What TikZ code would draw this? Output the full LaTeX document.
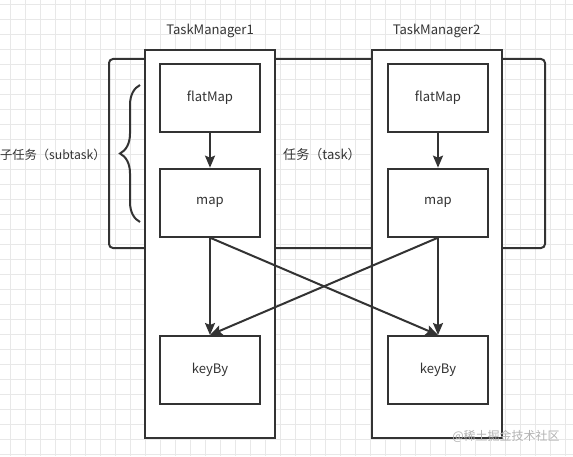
\documentclass[tikz,border=0pt]{standalone}
\usepackage{fontspec}
\setmainfont{Noto Sans CJK SC}
\usepackage{tikz}
\usetikzlibrary{arrows.meta,positioning,decorations.pathreplacing}
\definecolor{ink}{HTML}{333333}
\definecolor{gridgray}{HTML}{E8E8E8}

\begin{document}
\begin{tikzpicture}[
                  x=0.75pt, y=-0.75pt,
                  font=\fontsize{9.8}{11}\selectfont, text=ink,
                  gridline/.style={draw=gridgray, line width=0.6pt},
                  taskbox/.style={rectangle, draw=ink, line width=1.5pt, rounded corners=3pt, minimum width=327pt, minimum height=141.75pt, inner sep=0pt},
                  tmbox/.style={rectangle, draw=ink, fill=white, line width=1.5pt, minimum width=97.5pt, minimum height=291pt, inner sep=0pt},
                  opbox/.style={rectangle, draw=ink, fill=white, line width=1.5pt, minimum width=75pt, minimum height=51pt, inner sep=0pt},
                  line/.style={draw=ink, line width=1.5pt, -{Stealth[length=9pt, width=7.5pt, inset=1.5pt]}},
                  brace/.style={draw=ink, line width=1.5pt, decorate, decoration={brace, amplitude=15pt}}
            ]

            \useasboundingbox (0,0) rectangle (573,456);

            % Grid
            \foreach \gx in {10,25,...,565} \draw[gridline] (\gx,0) -- (\gx,456);
            \foreach \gy in {4,19,...,454} \draw[gridline] (0,\gy) -- (573,\gy);

            % Frames
            \node [taskbox] (task) at (327,153.5) {};
            \node [tmbox] (tm1) at (210,244) {};
            \node [tmbox] (tm2) at (436.5,244) {};

            % Nodes
            \node [opbox] (flat1) at (210,98) {flatMap};
            \node [opbox, below=26pt of flat1] (map1) {map};
            \node [opbox, below=73pt of map1] (key1) {keyBy};
            \node [opbox, right=94.5pt of flat1] (flat2) {flatMap};
            \node [opbox, below=26pt of flat2] (map2) {map};
            \node [opbox, below=73pt of map2] (key2) {keyBy};

            % Edges
            \path [line] (flat1) -- (map1);
            \path [line] (flat2) -- (map2);
            \path [line] (map1.south) -- (key1.north);
            \path [line] (map1.south) -- (key2.north);
            \path [line] (map2.south) -- (key2.north);
            \path [line] (map2.south) -- (key1.north);

            % Brace
            \coordinate (bracebot) at (140,222);
            \coordinate (bracetop) at (140,85);
            \draw [brace] (bracebot) -- (bracetop);

            % Labels
            \node [above=5pt of tm1] (tmlabel1) {TaskManager1};
            \node [above=5pt of tm2] (tmlabel2) {TaskManager2};
            \node [anchor=east, inner sep=0pt, font=\fontsize{9.2}{11}\selectfont] (sublabel) at (106,155) {子任务（subtask）};
            \node (tasklabel) at (322,155) {任务（task）};
            \node [text=black!30, font=\fontsize{9}{11}\selectfont] (mark) at (506,436) {@稀土掘金技术社区};
      \end{tikzpicture}
\end{document}
